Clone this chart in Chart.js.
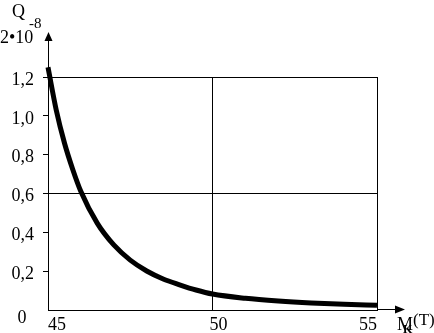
<!DOCTYPE html>
<html>
<head>
<meta charset="utf-8">
<script src="https://cdn.jsdelivr.net/npm/chart.js@4"></script>
<style>
  body { margin: 0; background: #fff; }
</style>
</head>
<body>
<canvas id="chart" width="434" height="333"></canvas>
<script>
// Data
const mValues = [45, 45.25, 45.5, 45.75, 46, 46.5, 47, 47.5, 48, 48.5, 49, 49.5, 50, 51, 52, 53, 54, 55];
const qValues = [1.25, 1.03, 0.86, 0.725, 0.61, 0.446, 0.335, 0.257, 0.201, 0.160, 0.130, 0.103, 0.082, 0.060, 0.046, 0.036, 0.029, 0.024];
const xTickLabels = [45, 50, 55];
const yGridValues = [0.6, 1.2];

const FONT = '"Liberation Serif", "Times New Roman", serif';

const points = mValues.map((m, i) => ({ x: m, y: qValues[i] }));

function isGridY(v) {
    return yGridValues.some(g => Math.abs(g - v) < 1e-6);
}

// Axis arrows and extra texts
const axisDecor = {
    id: 'axisDecor',
    afterDraw(chart) {
        const ctx = chart.ctx;
        const { left, right, top, bottom } = chart.chartArea;
        const xs = chart.scales.x;
        const ax = Math.round(left) + 0.5;
        const ay = Math.round(bottom) - 0.5;

        ctx.save();
        ctx.strokeStyle = '#000';
        ctx.fillStyle = '#000';
        ctx.lineWidth = 1;

        // y axis up to the arrow
        ctx.beginPath();
        ctx.moveTo(ax, top);
        ctx.lineTo(ax, 40);
        ctx.stroke();
        ctx.beginPath();
        ctx.moveTo(ax, 32);
        ctx.lineTo(ax - 4, 41);
        ctx.lineTo(ax + 4, 41);
        ctx.closePath();
        ctx.fill();

        // x axis out to the arrow
        ctx.beginPath();
        ctx.moveTo(right, ay);
        ctx.lineTo(397, ay);
        ctx.stroke();
        ctx.beginPath();
        ctx.moveTo(405, ay);
        ctx.lineTo(395, ay - 4);
        ctx.lineTo(395, ay + 4);
        ctx.closePath();
        ctx.fill();

        // x tick labels
        ctx.font = '18px ' + FONT;
        ctx.textBaseline = 'alphabetic';
        const aligns = ['left', 'center', 'right'];
        const nudges = [0, 6, 0];
        xTickLabels.forEach((v, i) => {
            ctx.textAlign = aligns[i];
            ctx.fillText(String(v), xs.getPixelForValue(v) + nudges[i], 330);
        });

        // zero of the y axis
        ctx.textAlign = 'center';
        ctx.fillText('0', 22, 323);

        // axis titles
        ctx.textAlign = 'left';
        ctx.fillText('Q', 12, 17);
        ctx.fillText('2\u202210', 0, 43);
        ctx.font = '15px ' + FONT;
        ctx.fillText('-8', 29, 28);

        ctx.font = '18px ' + FONT;
        ctx.fillText('M', 397, 330);
        ctx.font = 'bold 12px ' + FONT;
        ctx.fillText('K', 403, 333);
        ctx.font = '17px ' + FONT;
        ctx.fillText('(T)', 413, 325);
        ctx.restore();
    }
};

new Chart(document.getElementById('chart'), {
    type: 'line',
    data: {
        datasets: [{
            data: points,
            borderColor: '#000',
            borderWidth: 5,
            pointRadius: 0,
            fill: false,
            cubicInterpolationMode: 'monotone',
            clip: false
        }]
    },
    options: {
        responsive: false,
        animation: false,
        devicePixelRatio: 1,
        layout: { padding: { top: 77, right: 57, bottom: 23, left: 0 } },
        plugins: {
            legend: { display: false },
            tooltip: { enabled: false }
        },
        scales: {
            x: {
                type: 'linear',
                min: 45,
                max: 55,
                ticks: { display: false, stepSize: 5 },
                grid: {
                    color: ctx => (ctx.tick && ctx.tick.value > 45) ? '#000' : 'rgba(0,0,0,0)',
                    drawTicks: false,
                    lineWidth: 1
                },
                border: { color: '#000', width: 1 },
                afterFit: s => { s.height = 0; }
            },
            y: {
                min: 0,
                max: 1.2,
                ticks: {
                    stepSize: 0.2,
                    color: '#000',
                    padding: 9,
                    labelOffset: 3,
                    font: { family: FONT, size: 18 },
                    callback: v => v === 0 ? '' : v.toFixed(1).replace('.', ',')
                },
                grid: {
                    color: ctx => (ctx.tick && isGridY(ctx.tick.value)) ? '#000' : 'rgba(0,0,0,0)',
                    tickColor: ctx => (ctx.tick && ctx.tick.value === 0) ? 'rgba(0,0,0,0)' : '#000',
                    tickLength: 5,
                    drawTicks: true,
                    lineWidth: 1
                },
                border: { color: '#000', width: 1 },
                afterFit: s => { s.width = 48; }
            }
        }
    },
    plugins: [axisDecor]
});
</script>
</body>
</html>
